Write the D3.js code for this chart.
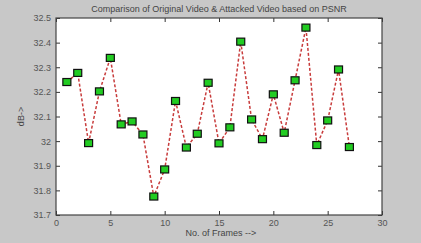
<!DOCTYPE html>
<html><head><meta charset="utf-8">
<script src="https://cdn.jsdelivr.net/npm/d3@7"></script>
<style>
html,body{margin:0;padding:0;background:#c8c8c8;}
svg{display:block;font-family:"Liberation Sans",Arial,sans-serif;}
</style></head>
<body>
<svg id="c" width="421" height="243"></svg>
<script>
const frames = [1,2,3,4,5,6,7,8,9,10,11,12,13,14,15,16,17,18,19,20,21,22,23,24,25,26,27];
const psnr = [32.240,32.277,31.992,32.202,32.338,32.068,32.080,32.027,31.775,31.885,32.163,31.974,32.030,32.237,31.991,32.056,32.404,32.088,32.008,32.190,32.034,32.247,32.461,31.984,32.084,32.291,31.976];
const xTicks = [0,5,10,15,20,25,30];
const yTicks = [31.7,31.8,31.9,32,32.1,32.2,32.3,32.4,32.5];
const title = "Comparison of Original Video & Attacked Video based on PSNR";
const xLabel = "No. of Frames -->";
const yLabel = "dB->";

const svg = d3.select("#c");
const L = 56, R = 382, T = 18, B = 215;
const x = d3.scaleLinear().domain([0,30]).range([L,R]);
const y = d3.scaleLinear().domain([31.7,32.5]).range([B,T]);

svg.append("rect").attr("x",L).attr("y",T).attr("width",R-L).attr("height",B-T).attr("fill","#fff");

const fmt = d => String(+d.toFixed(1));
svg.append("g").attr("transform",`translate(0,${B})`)
  .call(d3.axisBottom(x).tickValues(xTicks).tickSize(-4).tickPadding(5).tickFormat(d=>d));
svg.append("g").attr("transform",`translate(${L},0)`)
  .call(d3.axisLeft(y).tickValues(yTicks).tickSize(-4).tickPadding(5).tickFormat(fmt));
svg.append("g").attr("transform",`translate(0,${T})`)
  .call(d3.axisTop(x).tickValues(xTicks).tickSize(-4).tickFormat(""));
svg.append("g").attr("transform",`translate(${R},0)`)
  .call(d3.axisRight(y).tickValues(yTicks).tickSize(-4).tickFormat(""));
svg.selectAll(".domain").remove();
svg.selectAll(".tick line").attr("stroke","#333");
svg.selectAll(".tick text").attr("fill","#555").style("font-size","9px");

svg.append("rect").attr("x",L).attr("y",T).attr("width",R-L).attr("height",B-T)
  .attr("fill","none").attr("stroke","#444").attr("stroke-width",1.2);

const line = d3.line().x((d,i)=>x(frames[i])).y(d=>y(d));
svg.append("path").datum(psnr).attr("d",line).attr("fill","none")
  .attr("stroke","#c83c3c").attr("stroke-width",1.5).attr("stroke-dasharray","3,2");

svg.append("g").selectAll("rect").data(psnr).join("rect")
  .attr("x",(d,i)=>x(frames[i])-4).attr("y",d=>y(d)-3.5)
  .attr("width",8).attr("height",7)
  .attr("fill","#22cc22").attr("stroke","#111").attr("stroke-width",1.2);

svg.append("text").attr("x",(L+R)/2).attr("y",12).attr("text-anchor","middle")
  .attr("fill","#444").style("font-size","9px").text(title);
svg.append("text").attr("x",(L+R)/2+2).attr("y",236).attr("text-anchor","middle")
  .attr("fill","#444").style("font-size","9px").text(xLabel);
svg.append("text").attr("transform",`translate(24,${(T+B)/2}) rotate(-90)`).attr("text-anchor","middle")
  .attr("fill","#444").style("font-size","9px").text(yLabel);
</script>
</body></html>
